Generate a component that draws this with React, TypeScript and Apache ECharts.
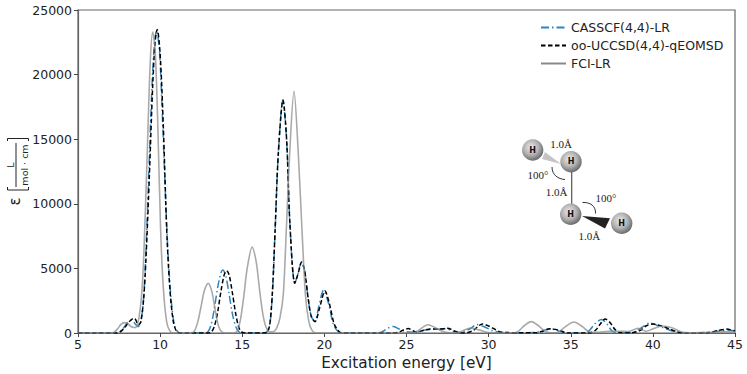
import React, { useEffect, useRef } from "react";
import * as echarts from "echarts";

const SERIES_NAMES = ["CASSCF(4,4)-LR", "oo-UCCSD(4,4)-qEOMSD", "FCI-LR"];
const X_TICK_RANGE = [5, 45];
const Y_TICK_RANGE = [0, 25000];

const cassPoints = [
  [5,0],[7.2,0],[7.4,30],[7.6,150],[7.8,420],[8.0,800],[8.27,1000],[8.45,760],[8.66,490],[8.8,760],[8.95,2000],[9.1,5200],[9.3,12000],[9.5,19000],[9.65,22300],[9.78,23400],[9.95,22000],[10.1,18000],[10.3,11500],[10.5,5700],[10.7,2200],[10.9,450],[11.1,60],[11.3,0],
  [12.7,0],[12.9,80],[13.1,600],[13.3,1900],[13.5,3500],[13.7,4650],[13.82,4880],[14.0,4400],[14.2,3000],[14.4,1500],[14.6,500],[14.8,100],[15,0],
  [16.3,0],[16.5,80],[16.7,850],[16.85,3400],[17,7900],[17.2,14000],[17.47,18000],[17.7,15000],[17.9,8500],[18.2,3850],[18.4,4600],[18.6,5450],[18.8,4800],[19,2800],[19.2,1300],[19.42,900],[19.65,2000],[19.95,3300],[20.25,2300],[20.55,650],[20.85,100],[21.1,0],
  [23.2,0],[23.5,80],[23.9,400],[24.2,500],[24.6,280],[24.9,120],[25.3,60],[25.7,90],[26.2,250],[26.8,290],[27.4,320],[27.9,120],[28.2,30],[28.5,120],[28.9,350],[29.27,650],[29.7,500],[30.2,190],[30.7,60],[31.3,30],[32,20],[32.8,30],[33.3,170],[33.7,330],[34.1,240],[34.5,50],[34.9,0],
  [35.8,0],[36.1,150],[36.5,750],[36.87,1050],[37.2,700],[37.5,170],[37.8,20],[38.5,30],[39.0,150],[39.4,500],[39.8,770],[40.2,620],[40.7,380],[41.2,160],[41.7,30],[42.3,0],[43.2,40],[43.8,120],[44.3,170],[44.7,220],[45,170],
];

const uccsdPoints = [
  [5,0],[7.3,0],[7.5,40],[7.8,350],[8.1,850],[8.4,1130],[8.5,1050],[8.68,620],[8.82,850],[9.0,2700],[9.15,6100],[9.34,12000],[9.55,19200],[9.7,22600],[9.82,23500],[10.0,21600],[10.2,15800],[10.4,8000],[10.6,3300],[10.8,900],[11,120],[11.2,0],
  [12.9,0],[13.1,50],[13.3,500],[13.5,1600],[13.7,3200],[13.9,4500],[14.05,4820],[14.2,4500],[14.4,3100],[14.6,1500],[14.8,400],[15,50],[15.2,0],
  [16.3,0],[16.55,100],[16.7,900],[16.85,3500],[17,7950],[17.2,14000],[17.48,18030],[17.7,15000],[17.9,8500],[18.2,3850],[18.4,4600],[18.62,5500],[18.8,4800],[19,2800],[19.2,1300],[19.43,880],[19.7,1900],[20.04,3250],[20.3,2300],[20.6,700],[20.9,100],[21.1,0],
  [24.1,0],[24.5,50],[24.8,230],[25.1,340],[25.4,170],[25.65,70],[26,200],[26.5,310],[27,300],[27.5,360],[28,110],[28.5,0],[29,150],[29.64,700],[30,540],[30.4,270],[30.7,80],[31.2,30],[32,10],[32.9,20],[33.3,140],[33.74,320],[34.3,210],[34.8,0],
  [36.1,0],[36.5,200],[36.8,700],[37.1,1080],[37.4,800],[37.7,260],[38,30],[38.6,10],[39.2,180],[39.6,560],[40,690],[40.5,560],[41,310],[41.5,80],[42,0],[43.4,30],[44,200],[44.5,300],[44.9,180],[45,150],
];

const fciPoints = [
  [5,0],[7.0,0],[7.2,60],[7.4,300],[7.6,650],[7.8,800],[8.0,750],[8.2,520],[8.4,420],[8.55,480],[8.7,1100],[8.87,2900],[9.0,5800],[9.2,13300],[9.4,21000],[9.55,23300],[9.7,21800],[9.85,16500],[10.03,8000],[10.2,3400],[10.4,850],[10.6,150],[10.8,0],
  [11.9,0],[12.1,180],[12.3,900],[12.5,2100],[12.7,3300],[12.93,3840],[13.15,3200],[13.35,1800],[13.55,550],[13.75,100],[14,0],
  [14.5,0],[14.7,170],[14.9,1100],[15.1,2900],[15.3,5000],[15.6,6650],[15.85,5500],[16.05,3400],[16.25,1500],[16.45,450],[16.7,90],[16.9,100],[17.1,400],[17.3,1200],[17.5,3000],[17.68,7900],[17.9,14200],[18.15,18730],[18.4,14200],[18.64,7900],[18.85,2900],[19.05,900],[19.25,200],[19.5,0],
  [25.4,0],[25.7,170],[26,450],[26.3,640],[26.7,450],[27.1,170],[27.4,60],[27.9,20],[28.3,100],[28.9,390],[29.4,240],[29.9,60],[30.5,10],[31.4,0],[31.8,130],[32.2,600],[32.6,880],[33,600],[33.4,170],[33.8,10],[34.2,30],[34.6,420],[35.2,850],[35.7,500],[36.2,60],[36.7,60],[37.3,130],[38,130],[38.5,120],[39.1,360],[39.6,130],[40,320],[40.6,540],[41.2,390],[41.7,100],[42.2,10],[43,30],[44,90],[45,110],
];

const ballCenters = [[532.7, 150], [571, 161.7], [570.7, 214.3], [621.7, 223.3]];
const bondLabels = [
  ["1.0Å", 561, 143.5], ["100°", 538, 175], ["1.0Å", 556.7, 192], ["100°", 606, 198.3], ["1.0Å", 589.3, 236],
] as [string, number, number][];

export default function App() {
  const ref = useRef<HTMLDivElement>(null);
  useEffect(() => {
    const chart = echarts.init(ref.current!, undefined, { renderer: "svg" });
    const fontFamily = "'DejaVu Sans'";
    const serif = "'Liberation Serif'";
    const ballFill = () => new echarts.graphic.RadialGradient(0.42, 0.38, 0.72, [
      { offset: 0, color: "#ececec" },
      { offset: 0.5, color: "#b0b0b0" },
      { offset: 1, color: "#505050" },
    ]);
    const rotated = (text: string, x: number, y: number, fontSize: number, extra: any = {}) => ({
      type: "text", x, y, rotation: Math.PI / 2,
      style: { text, fontSize, fontFamily, fill: "#222", align: "center", verticalAlign: "middle", ...extra },
    });
    chart.setOption({
      animation: false,
      backgroundColor: "#fff",
      grid: { left: 78, right: 12, top: 10, bottom: 41, show: true, borderColor: "#666", borderWidth: 1.2, backgroundColor: "transparent", outerBoundsMode: "none" },
      legend: {
        left: 535, top: 16, orient: "vertical", itemWidth: 25, itemHeight: 10, itemGap: 5,
        data: SERIES_NAMES,
        itemStyle: { opacity: 0 },
        lineStyle: { opacity: 1 },
        textStyle: { fontFamily, fontSize: 12.5, color: "#222", padding: 0 },
      },
      xAxis: {
        type: "value", min: X_TICK_RANGE[0], max: X_TICK_RANGE[1], interval: 5,
        name: "Excitation energy [eV]", nameLocation: "middle", nameGap: 21,
        nameTextStyle: { fontFamily, fontSize: 15.3, color: "#222" },
        axisLine: { show: true, onZero: false, lineStyle: { color: "#666", width: 1.2 } },
        axisTick: { show: true, length: 4, lineStyle: { color: "#444", width: 1 } },
        axisLabel: { fontFamily, fontSize: 12.5, color: "#222", margin: 5 },
        splitLine: { show: false },
      },
      yAxis: {
        type: "value", min: Y_TICK_RANGE[0], max: Y_TICK_RANGE[1], interval: 5000,
        axisLine: { show: true, onZero: false, lineStyle: { color: "#666", width: 1.2 } },
        axisTick: { show: true, length: 4, lineStyle: { color: "#444", width: 1 } },
        axisLabel: { fontFamily, fontSize: 12.5, color: "#222", margin: 6, formatter: (v: number) => String(v) },
        splitLine: { show: false },
      },
      series: [
        { name: SERIES_NAMES[0], type: "line", data: cassPoints, symbol: "none", smooth: 0.3, z: 2, itemStyle: { color: "#2e86c1" },
          lineStyle: { color: "#2e86c1", width: 1.5, type: [8, 3, 1.5, 3] } },
        { name: SERIES_NAMES[1], type: "line", data: uccsdPoints, symbol: "none", smooth: 0.3, z: 3, itemStyle: { color: "#000" },
          lineStyle: { color: "#000", width: 1.5, type: [4.5, 2.5] } },
        { name: SERIES_NAMES[2], type: "line", data: fciPoints, symbol: "none", smooth: 0.3, z: 4, itemStyle: { color: "#999" },
          lineStyle: { color: "#888888", width: 1.6, opacity: 0.72 } },
      ],
      graphic: [
        rotated("ε", 15, 201.5, 15),
        rotated("L", 10, 165, 9.5),
        rotated("mol · cm", 24, 165, 9.5),
        { type: "line", shape: { x1: 16, y1: 143, x2: 16, y2: 187 }, style: { stroke: "#222", lineWidth: 1 } },
        { type: "polyline", shape: { points: [[7.5, 141], [7.5, 138.5], [28.5, 138.5], [28.5, 141]] }, style: { stroke: "#222", lineWidth: 1, fill: "none" } },
        { type: "polyline", shape: { points: [[7.5, 187], [7.5, 190], [28.5, 190], [28.5, 187]] }, style: { stroke: "#222", lineWidth: 1, fill: "none" } },
        { type: "line", shape: { x1: 571.7, y1: 165, x2: 571.7, y2: 210 }, style: { stroke: "#555", lineWidth: 1.2 } },
        { type: "polygon", shape: { points: [[545, 152], [561, 164], [542, 159]] }, style: { fill: "#c4c4c4" } },
        { type: "polygon", shape: { points: [[582, 216], [610, 218.3], [605, 228.5]] }, style: { fill: "#222" } },
        { type: "bezierCurve", shape: { x1: 552, y1: 167, cpx1: 552, cpy1: 175, cpx2: 558, cpy2: 179, x2: 565, y2: 179.5 }, style: { stroke: "#333", lineWidth: 1, fill: "none" } },
        { type: "bezierCurve", shape: { x1: 582.5, y1: 202.5, cpx1: 590, cpy1: 202, cpx2: 596, cpy2: 206, x2: 595.5, y2: 213.5 }, style: { stroke: "#333", lineWidth: 1, fill: "none" } },
        ...ballCenters.flatMap(([x, y]) => [
          { type: "circle", shape: { cx: x, cy: y, r: 10.7 }, style: { fill: ballFill() } },
          { type: "text", x, y, style: { text: "H", fontFamily, fontSize: 8, fontWeight: "bold", fill: "#111", align: "center", verticalAlign: "middle" } },
        ]),
        ...bondLabels.map(([text, x, y]) => ({
          type: "text", x, y, style: { text, fontFamily: serif, fontSize: 11, fill: "#222", align: "center", verticalAlign: "middle" },
        })),
      ],
    });
    return () => chart.dispose();
  }, []);
  return <div ref={ref} style={{ position: "absolute", left: 0, top: 0, width: 747, height: 374 }} />;
}
